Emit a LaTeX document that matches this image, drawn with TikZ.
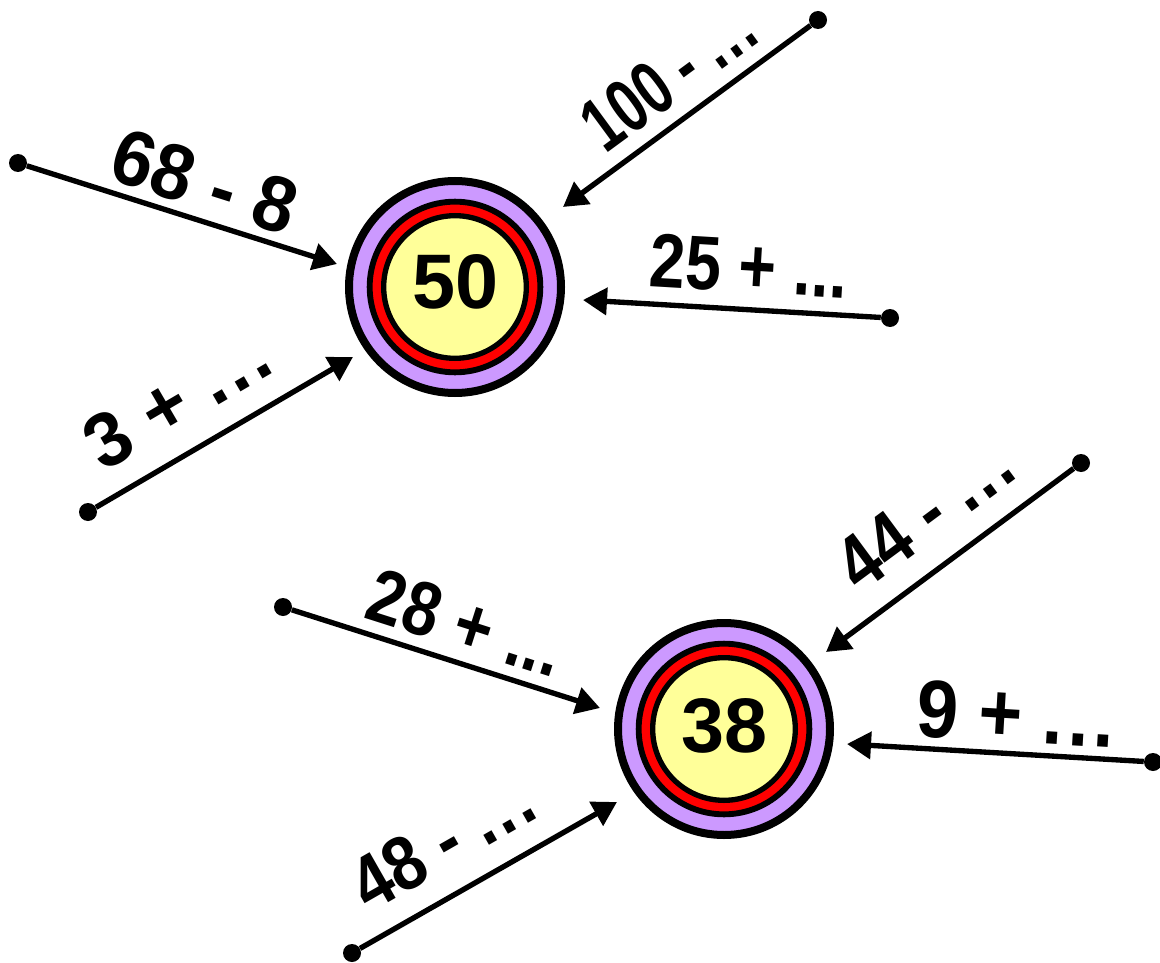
\documentclass[tikz,border=0pt]{standalone}
\usepackage{fontspec}
\setmainfont{Liberation Sans}
\usepackage{graphicx}
\usetikzlibrary{arrows.meta}
\definecolor{ringpurple}{HTML}{CC99FF}
\definecolor{ringred}{HTML}{FF0000}
\definecolor{coreyellow}{HTML}{FFFF99}
\newcommand{\lbl}[3]{\resizebox{#1pt}{#2pt}{\bfseries #3}}
\newcommand{\sdots}{.\kern0.06em.\kern0.06em.}
\begin{document}
\begin{tikzpicture}[x=0.75pt,y=-0.75pt,
  ringout/.style={circle, draw=black, line width=6pt, fill=ringpurple, minimum size=159pt, inner sep=0pt},
  ringmid/.style={circle, draw=black, line width=4.4pt, fill=ringred, minimum size=128pt, inner sep=0pt},
  ringin/.style={circle, draw=black, line width=4pt, fill=coreyellow, minimum size=107pt, inner sep=0pt},
  numtext/.style={font=\fontsize{58pt}{60pt}\selectfont\bfseries, inner sep=0pt},
  dotn/.style={circle, fill=black, inner sep=0pt, minimum size=13.5pt},
  conn/.style={line width=4pt, -{Triangle[length=18pt,width=20pt]}},
  lab/.style={inner sep=0pt, anchor=center}]
\useasboundingbox (0,0) rectangle (1160,963);

% ---- first target: 50
\node[ringout] (c1o) at (455,287) {};
\node[ringmid] (c1m) at (455,287) {};
\node[ringin]  (c1i) at (455,287) {};
\node[numtext] (n1) at (456,282) {50};

\node[dotn] (s1a) at (18,163) {};
\node[dotn] (s1b) at (818,20) {};
\node[dotn] (s1c) at (890,318) {};
\node[dotn] (s1d) at (88,512) {};
\coordinate (e1a) at (337,264);
\coordinate (e1b) at (563,207);
\coordinate (e1c) at (583,300);
\coordinate (e1d) at (353,357);
\draw[conn] (s1a) -- (e1a);
\draw[conn] (s1b) -- (e1b);
\draw[conn] (s1c) -- (e1c);
\draw[conn] (s1d) -- (e1d);
\node[lab, rotate=-17.6] (l1a) at (205,182) {\lbl{142.5}{41}{68 - 8}};
\node[lab, rotate=36.3]  (l1b) at (668,76)  {\lbl{144.75}{40}{100 - \sdots}};
\node[lab, rotate=-3.4]  (l1c) at (749,266) {\lbl{148.5}{40}{25 + ...}};
\node[lab, rotate=30.3]  (l1d) at (177,399) {\lbl{150}{40}{3 + \sdots}};

% ---- second target: 38
\node[ringout] (c2o) at (724,729) {};
\node[ringmid] (c2m) at (724,729) {};
\node[ringin]  (c2i) at (724,729) {};
\node[numtext] (n2) at (725,726) {38};

\node[dotn] (s2a) at (283,607) {};
\node[dotn] (s2b) at (1081,463) {};
\node[dotn] (s2c) at (1153,762) {};
\node[dotn] (s2d) at (352,953) {};
\coordinate (e2a) at (600,708);
\coordinate (e2b) at (826,652);
\coordinate (e2c) at (847,744);
\coordinate (e2d) at (617,802);
\draw[conn] (s2a) -- (e2a);
\draw[conn] (s2b) -- (e2b);
\draw[conn] (s2c) -- (e2c);
\draw[conn] (s2d) -- (e2d);
\node[lab, rotate=-17.7] (l2a) at (466,623) {\lbl{150}{40}{28 + ...}};
\node[lab, rotate=36.5]  (l2b) at (924,514) {\lbl{148.5}{40}{44 - \sdots}};
\node[lab, rotate=-3.4]  (l2c) at (1016,714) {\lbl{148.5}{42.75}{9 + \sdots}};
\node[lab, rotate=29.7]  (l2d) at (442,842) {\lbl{147.75}{40}{48 - \sdots}};
\end{tikzpicture}
\end{document}
